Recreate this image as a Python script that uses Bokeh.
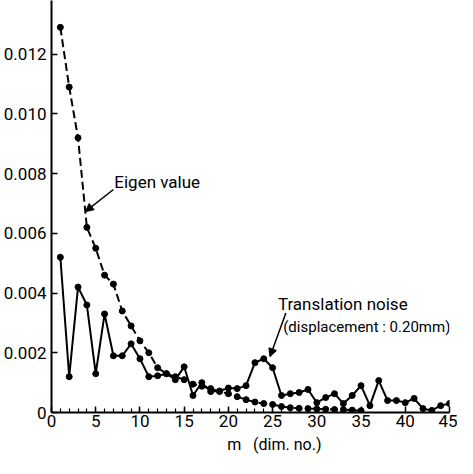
from bokeh.plotting import figure
from bokeh.embed import file_html
from bokeh.resources import INLINE
from bokeh.models import Range1d, FixedTicker, Label, Arrow, NormalHead

m_eigen = list(range(1, 36))
eigen = [0.0129, 0.0109, 0.0092, 0.0062, 0.0055, 0.0046, 0.0043, 0.0034, 0.0029, 0.0024,
         0.0020, 0.0015, 0.0013, 0.0012, 0.0011, 0.00095, 0.00088, 0.0008, 0.0007, 0.00063,
         0.00053, 0.00043, 0.00035, 0.0003, 0.00027, 0.0002, 0.00016, 0.00014, 0.00013, 0.00012,
         0.00011, 0.0001, 0.0001, 0.00008, 0.00006]

m_noise = list(range(1, 46))
noise = [0.0052, 0.0012, 0.0042, 0.0036, 0.0013, 0.0033, 0.0019, 0.0019, 0.0023, 0.0018,
         0.0012, 0.00123, 0.0013, 0.0011, 0.00153, 0.00057, 0.0010, 0.0007, 0.00072, 0.00082,
         0.0008, 0.0009, 0.00167, 0.0018, 0.0015, 0.00057, 0.00063, 0.00067, 0.00077, 0.00033,
         0.0005, 0.00063, 0.0003, 0.00057, 0.0009, 0.00023, 0.00107, 0.0004, 0.0004, 0.00033,
         0.00047, 0.00013, 0.00007, 0.00023, 0.0003]

x_major = [0, 5, 10, 15, 20, 25, 30, 35, 40, 45]
x_minor = list(range(0, 36))
y_ticks = [0, 0.002, 0.004, 0.006, 0.008, 0.010, 0.012]
y_labels = ["0", "0.002", "0.004", "0.006", "0.008", "0.010", "0.012"]

FONT = "Roboto"
NB = "\u00a0"

p = figure(width=457, height=458, output_backend="svg", toolbar_location=None,
           x_range=Range1d(0, 45), y_range=Range1d(0, 0.0138),
           min_border_left=50, min_border_right=8, min_border_top=0, min_border_bottom=46)
p.outline_line_color = None
p.grid.visible = False
p.background_fill_color = "white"

for ax in (p.xaxis[0], p.yaxis[0]):
    ax.axis_line_width = 2
    ax.axis_line_color = "black"
    ax.major_tick_in = 6
    ax.major_tick_out = 0
    ax.major_tick_line_width = 1.5
    ax.minor_tick_in = 4
    ax.minor_tick_out = 0
    ax.minor_tick_line_width = 1.2
    ax.major_label_text_font = FONT
    ax.major_label_text_font_size = "17px"
    ax.major_label_text_color = "black"

p.xaxis.ticker = FixedTicker(ticks=x_major, minor_ticks=x_minor)
p.xaxis.major_label_standoff = 2
p.xaxis.axis_label = NB * 12 + "m" + NB * 3 + "(dim. no.)"
p.xaxis.axis_label_text_font = FONT
p.xaxis.axis_label_text_font_style = "normal"
p.xaxis.axis_label_text_font_size = "16px"
p.xaxis.axis_label_text_color = "black"
p.xaxis.axis_label_standoff = 5
p.yaxis.ticker = FixedTicker(ticks=y_ticks, minor_ticks=[])
p.yaxis.major_label_overrides = {t: l for t, l in zip(y_ticks, y_labels)}
p.yaxis.major_label_standoff = 5

# series
p.line(m_eigen, eigen, line_color="black", line_width=2, line_dash="8 4")
p.scatter(m_eigen, eigen, size=6, color="black")
p.line(m_noise, noise, line_color="black", line_width=2)
p.scatter(m_noise, noise, size=6, color="black")

# annotations
p.add_layout(Label(x=7.1, y=0.00773, text="Eigen value", text_font=FONT,
                   text_font_size="17px", text_baseline="middle", text_color="black"))
p.add_layout(Arrow(x_start=7.0, y_start=0.00747, x_end=3.83, y_end=0.00673,
                   line_width=1.5, end=NormalHead(size=8, fill_color="black", line_color="black")))
p.add_layout(Label(x=25.6, y=0.00363, text="Translation noise", text_font=FONT,
                   text_font_size="17px", text_baseline="middle", text_color="black"))
p.add_layout(Label(x=26.2, y=0.00287, text="(displacement : 0.20mm)", text_font=FONT,
                   text_font_size="15px", text_baseline="middle", text_color="black"))
p.add_layout(Arrow(x_start=26.5, y_start=0.00333, x_end=24.7, y_end=0.00187,
                   line_width=1.5, end=NormalHead(size=8, fill_color="black", line_color="black")))

open("out.html", "w").write(file_html(p, INLINE))
